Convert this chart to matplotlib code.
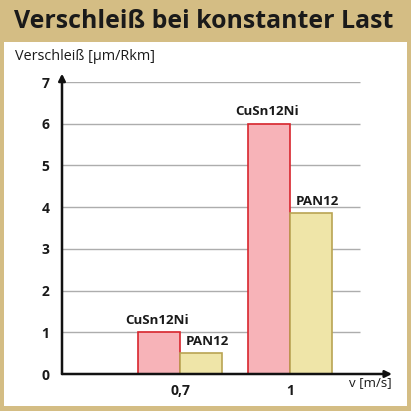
import numpy as np
import matplotlib.pyplot as plt
from matplotlib.patches import Rectangle

# ---------- data ----------
speeds = ['0,7', '1']
series = ['CuSn12Ni', 'PAN12']
wear_cusn = [1.0, 6.0]
wear_pan = [0.5, 3.85]
yticks = [0, 1, 2, 3, 4, 5, 6, 7]

# ---------- styles ----------
gold = '#d4bd84'
pink = '#f7b3b8'
red = '#d8262d'
cream = '#efe5a8'
olive = '#b9a453'
txt = '#1a1a1a'
plt.rcParams['font.family'] = ['Open Sans', 'DejaVu Sans']

fig = plt.figure(figsize=(4.11, 4.11), dpi=100)
fig.patch.set_facecolor(gold)
# white panel
fig.patches.append(Rectangle((4/411, 5/411), 403/411, (411-42-5)/411, transform=fig.transFigure,
                             facecolor='white', edgecolor='none', zorder=-5))
fig.text(14/411, 1-21/411, 'Verschleiß bei konstanter Last', fontsize=17.9, fontweight='bold',
         color=txt, va='center', ha='left')
fig.text(15/411, 1-56/411, 'Verschleiß [µm/Rkm]', fontsize=10.4, color=txt, va='center', ha='left')

ax = fig.add_axes([62/411, 1-374/411, (395-62)/411, (374-82)/411])
ax.set_zorder(2)
ax.set_facecolor('none')
x = np.arange(len(speeds))
w = 0.38
xl = (62-180)/110.
xr = (395-180)/110.
ax.set_xlim(xl, xr)
ax.set_ylim(0, 7)

# grid lines
ax.hlines(yticks[1:], xl, (360-180)/110., colors='#adadad', lw=1.0, zorder=1)

b1 = ax.bar(x - w/2, wear_cusn, w, color=pink, edgecolor=red, lw=1.2, zorder=3)
b2 = ax.bar(x + w/2, wear_pan, w, color=cream, edgecolor=olive, lw=1.2, zorder=3)
for xi, v in zip(x, wear_cusn):
    ax.text(xi - w/2 - 0.02, v + 0.13, series[0], ha='center', va='bottom', fontsize=9.6,
            fontweight='bold', color=txt)
for xi, v in zip(x, wear_pan):
    ax.text(xi + w/2 + 0.06, v + 0.13, series[1], ha='center', va='bottom', fontsize=9.6,
            fontweight='bold', color=txt)

for s in ax.spines.values():
    s.set_visible(False)
# axis arrows
ax.annotate('', xy=(xl, 7.2), xytext=(xl, 0), xycoords='data',
            arrowprops=dict(arrowstyle='-|>', color='#111111', lw=1.8, mutation_scale=10,
                            shrinkA=0, shrinkB=0), annotation_clip=False, zorder=5)
ax.annotate('', xy=((392-180)/110., 0), xytext=(xl, 0), xycoords='data',
            arrowprops=dict(arrowstyle='-|>', color='#111111', lw=1.8, mutation_scale=10,
                            shrinkA=0, shrinkB=0), annotation_clip=False, zorder=5)

ax.set_yticks(yticks)
ax.set_yticklabels([str(t) for t in yticks], fontsize=10, fontweight='bold', color=txt)
ax.set_xticks(x)
ax.set_xticklabels(speeds, fontsize=10, fontweight='bold', color=txt)
ax.tick_params(length=0, pad=7)
ax.tick_params(axis='y', pad=9)
ax.text((370-180)/110., -0.2, 'v [m/s]', fontsize=9.5, color=txt, ha='center', va='center')

fig.savefig('out.png', dpi=100, facecolor=gold)
